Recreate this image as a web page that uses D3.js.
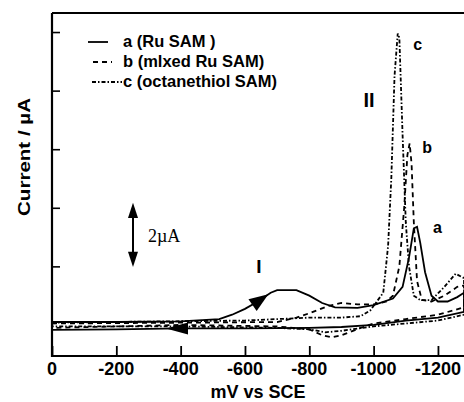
<!DOCTYPE html>
<html>
<head>
<meta charset="utf-8">
<script src="https://cdn.jsdelivr.net/npm/d3@7"></script>
<style>
  body { margin: 0; background: #fff; }
  text { font-family: "Liberation Sans", Arial, sans-serif; font-weight: bold; fill: #000; }
</style>
</head>
<body>
<div id="chart"></div>
<script>
// potential (mV vs SCE) and current (uA); forward scan then return scan
var curveA = [
  [0, 0.1], [-200, 0.1], [-400, 0.12], [-520, 0.2], [-560, 0.35], [-600, 0.55], [-640, 0.8],
  [-680, 1.1], [-700, 1.19], [-760, 1.19], [-800, 1.0], [-840, 0.75], [-880, 0.6], [-950, 0.58],
  [-1000, 0.68], [-1060, 0.9], [-1090, 1.3], [-1110, 2.3], [-1125, 3.3], [-1135, 3.35],
  [-1145, 2.8], [-1160, 1.8], [-1180, 1.0], [-1200, 0.8], [-1230, 0.8], [-1260, 0.95], [-1281, 1.1],
  [-1281, 0.45], [-1200, 0.25], [-1100, 0.15], [-1000, 0.0], [-900, -0.07], [-800, -0.1],
  [-600, -0.12], [-400, -0.12], [-200, -0.15], [0, -0.17], [0, 0.1]
];
var curveB = [
  [0, 0.05], [-300, 0.07], [-700, 0.1], [-760, 0.25], [-800, 0.4], [-860, 0.65], [-900, 0.75],
  [-950, 0.7], [-1000, 0.7], [-1040, 0.8], [-1060, 1.0], [-1080, 2.0], [-1095, 4.0], [-1105, 5.8],
  [-1112, 6.2], [-1118, 5.5], [-1125, 3.5], [-1135, 1.5], [-1150, 0.85], [-1180, 0.8],
  [-1220, 1.0], [-1260, 1.3], [-1281, 1.35],
  [-1281, 0.6], [-1200, 0.35], [-1100, 0.2], [-1000, 0.05], [-960, -0.1], [-900, -0.35],
  [-870, -0.42], [-840, -0.35], [-800, -0.15], [-700, -0.05], [-400, 0.0], [0, -0.1]
];
var curveC = [
  [0, 0.08], [-600, 0.15], [-700, 0.2], [-800, 0.25], [-900, 0.25], [-960, 0.3], [-990, 0.5],
  [-1010, 0.8], [-1030, 1.1], [-1045, 2.7], [-1055, 5.0], [-1065, 8.5], [-1075, 9.95],
  [-1080, 9.8], [-1090, 6.5], [-1100, 3.5], [-1110, 2.0], [-1125, 1.0], [-1145, 0.85],
  [-1180, 0.85], [-1220, 1.3], [-1255, 1.75], [-1281, 1.6],
  [-1281, 0.35], [-1200, 0.15], [-1100, 0.05], [-1000, -0.05], [-900, -0.2], [-850, -0.25],
  [-800, -0.15], [-700, -0.1], [-400, -0.05], [0, -0.05]
];
var xTicks = [0, -200, -400, -600, -800, -1000, -1200];
var yTicks = [2, 4, 6, 8, 10];
var legendLabels = ["a (Ru SAM )", "b (mlxed Ru SAM)", "c (octanethiol SAM)"];
// label text, potential, current at text baseline
var peakLabels = [["a", -1185, 3.14], ["b", -1151, 5.87], ["c", -1123, 9.39]];

var W = 464, H = 402;
var svg = d3.select("#chart").append("svg").attr("width", W).attr("height", H);

var x = d3.scaleLinear().domain([0, -1281]).range([52, 464]);
var y = d3.scaleLinear().domain([-1.06, 10.65]).range([356, 13]);

var line = d3.line().x(function (d) { return x(d[0]); }).y(function (d) { return y(d[1]); });

var styles = [
  { data: curveA, dash: null },
  { data: curveB, dash: "5,4" },
  { data: curveC, dash: "4,2,1.5,2" }
];
styles.forEach(function (s) {
  svg.append("path")
    .datum(s.data)
    .attr("fill", "none")
    .attr("stroke", "#000")
    .attr("stroke-width", 1.8)
    .attr("stroke-dasharray", s.dash)
    .attr("d", line);
});

// frame
svg.append("path")
  .attr("d", "M52,13 L464,13 M52,13 L52,356 L464,356")
  .attr("fill", "none").attr("stroke", "#000").attr("stroke-width", 2.2);

// axes
var xAxis = svg.append("g").attr("transform", "translate(0,356)")
  .call(d3.axisTop(x).tickValues(xTicks).tickSize(10).tickFormat(""));
xAxis.select(".domain").remove();
xAxis.selectAll("line").attr("stroke-width", 1.8);
svg.selectAll(".xl").data(xTicks).enter().append("text")
  .attr("class", "xl")
  .attr("x", function (d) { return x(d); })
  .attr("y", 375)
  .attr("text-anchor", "middle")
  .style("font-size", "18px")
  .text(function (d) { return String(d); });

var yAxis = svg.append("g").attr("transform", "translate(52,0)")
  .call(d3.axisRight(y).tickValues(yTicks).tickSize(8).tickFormat(""));
yAxis.select(".domain").remove();
yAxis.selectAll("line").attr("stroke-width", 1.6);

svg.append("text").attr("x", 258).attr("y", 398).attr("text-anchor", "middle")
  .style("font-size", "18px").text("mV vs SCE");
svg.append("text").attr("transform", "translate(30,157) rotate(-90)")
  .attr("text-anchor", "middle").style("font-size", "17px")
  .attr("textLength", 118).attr("lengthAdjust", "spacingAndGlyphs")
  .text("Current / \u00b5A");

// legend
var legDash = [null, "5,4", "4,2,1.5,2"];
var legX = [[88, 108], [93, 112], [92, 122]];
legendLabels.forEach(function (t, i) {
  var ly = 42 + i * 20;
  svg.append("line").attr("x1", legX[i][0]).attr("x2", legX[i][1])
    .attr("y1", ly).attr("y2", ly)
    .attr("stroke", "#000").attr("stroke-width", 1.8)
    .attr("stroke-dasharray", legDash[i]);
  svg.append("text").attr("x", 123).attr("y", ly + 5)
    .style("font-size", "16.5px").text(t);
});

// peak labels
peakLabels.forEach(function (p) {
  svg.append("text").attr("x", x(p[1])).attr("y", y(p[2]))
    .style("font-size", "16px").text(p[0]);
});
svg.append("text").attr("x", 259).attr("y", 273).attr("text-anchor", "middle")
  .style("font-size", "19px").text("I");
svg.append("text").attr("x", 369).attr("y", 107).attr("text-anchor", "middle")
  .style("font-size", "20px").text("II");

// scale bar 2 uA
var barX = 133, barTop = y(4.1), barBot = y(2.05);
svg.append("line").attr("x1", barX).attr("x2", barX)
  .attr("y1", barTop + 8).attr("y2", barBot - 8)
  .attr("stroke", "#000").attr("stroke-width", 2);
svg.append("path").attr("d", d3.symbol().type(d3.symbolTriangle).size(60)())
  .attr("transform", "translate(" + barX + "," + (barTop + 8) + ") scale(0.85,1.5)");
svg.append("path").attr("d", d3.symbol().type(d3.symbolTriangle).size(60)())
  .attr("transform", "translate(" + barX + "," + (barBot - 8) + ") rotate(180) scale(0.85,1.5)");
svg.append("text").attr("x", 148).attr("y", 242)
  .style("font-family", "'Liberation Serif', serif").style("font-weight", "normal")
  .style("font-size", "18px").text("2\u00b5A");

// scan direction arrows
svg.append("path").attr("d", d3.symbol().type(d3.symbolTriangle).size(110)())
  .attr("transform", "translate(" + x(-640) + "," + y(0.8) + ") rotate(55) scale(0.9,1.4)");
svg.append("path").attr("d", d3.symbol().type(d3.symbolTriangle).size(110)())
  .attr("transform", "translate(" + x(-400) + "," + y(-0.12) + ") rotate(-90) scale(0.75,1.6)");
</script>
</body>
</html>
